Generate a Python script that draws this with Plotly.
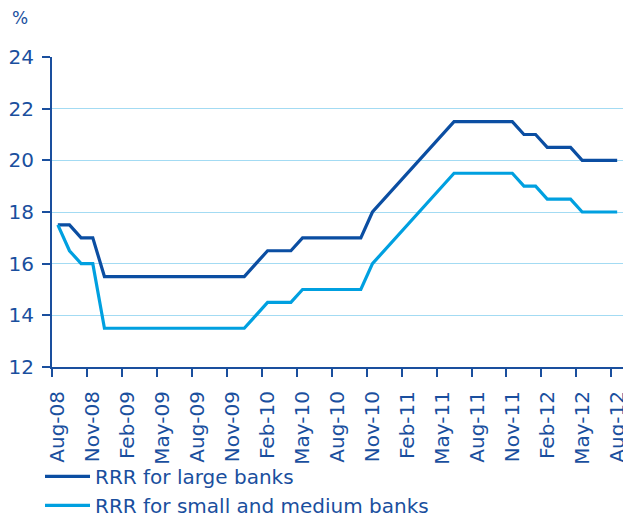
import plotly.graph_objects as go

months = ["Aug-08","Sep-08","Oct-08","Nov-08","Dec-08","Jan-09","Feb-09","Mar-09","Apr-09","May-09",
          "Jun-09","Jul-09","Aug-09","Sep-09","Oct-09","Nov-09","Dec-09","Jan-10","Feb-10","Mar-10",
          "Apr-10","May-10","Jun-10","Jul-10","Aug-10","Sep-10","Oct-10","Nov-10","Dec-10","Jan-11",
          "Feb-11","Mar-11","Apr-11","May-11","Jun-11","Jul-11","Aug-11","Sep-11","Oct-11","Nov-11",
          "Dec-11","Jan-12","Feb-12","Mar-12","Apr-12","May-12","Jun-12","Jul-12","Aug-12"]

rrr_large = [17.5,17.5,17.0,17.0,15.5,15.5,15.5,15.5,15.5,15.5,
             15.5,15.5,15.5,15.5,15.5,15.5,15.5,16.0,16.5,16.5,
             16.5,17.0,17.0,17.0,17.0,17.0,17.0,18.0,18.5,19.0,
             19.5,20.0,20.5,21.0,21.5,21.5,21.5,21.5,21.5,21.5,
             21.0,21.0,20.5,20.5,20.5,20.0,20.0,20.0,20.0]

rrr_small = [17.5,16.5,16.0,16.0,13.5,13.5,13.5,13.5,13.5,13.5,
             13.5,13.5,13.5,13.5,13.5,13.5,13.5,14.0,14.5,14.5,
             14.5,15.0,15.0,15.0,15.0,15.0,15.0,16.0,16.5,17.0,
             17.5,18.0,18.5,19.0,19.5,19.5,19.5,19.5,19.5,19.5,
             19.0,19.0,18.5,18.5,18.5,18.0,18.0,18.0,18.0]

series_names = ["RRR for large banks", "RRR for small and medium banks"]
y_ticks = [12, 14, 16, 18, 20, 22, 24]

DARK = "#0b4ea2"
LIGHT = "#00a0e0"
TEXT = "#1a4f9e"
GRID = "#a3dbf3"
FONT = "DejaVu Sans"

idx = list(range(len(months)))
label_idx = idx[::3]

fig = go.Figure()
fig.add_trace(go.Scatter(x=idx, y=rrr_large, mode="lines", name=series_names[0],
                         line=dict(color=DARK, width=3.2)))
fig.add_trace(go.Scatter(x=idx, y=rrr_small, mode="lines", name=series_names[1],
                         line=dict(color=LIGHT, width=3.2)))

fig.update_layout(
    width=623, height=515,
    margin=dict(l=52, r=0, t=57, b=148, autoexpand=False),
    paper_bgcolor="white", plot_bgcolor="white",
    font=dict(family=FONT, color=TEXT, size=20),
    showlegend=True,
    legend=dict(orientation="v", x=-0.021, y=-0.290, xanchor="left", yanchor="top",
                font=dict(size=20, color=TEXT), itemwidth=45, tracegroupgap=0,
                bgcolor="rgba(0,0,0,0)"),
    xaxis=dict(range=[-0.5, 48.5], tickmode="array", tickvals=label_idx,
               ticktext=[months[i] for i in label_idx], tickangle=-90,
               ticks="", showgrid=False, showline=True, linecolor=TEXT, linewidth=2,
               zeroline=False, ticklabelstandoff=14, ticklabeloverflow="allow",
               tickfont=dict(size=20, color=TEXT),
               minor=dict(tick0=-0.5, dtick=3, ticks="outside", ticklen=8,
                          tickwidth=2, tickcolor=TEXT, showgrid=False)),
    yaxis=dict(range=[12, 24], tickmode="array", tickvals=y_ticks,
               showgrid=True, gridcolor=GRID, gridwidth=1.2,
               showline=True, linecolor=TEXT, linewidth=2, zeroline=False,
               ticks="outside", ticklen=8, tickwidth=2, tickcolor=TEXT,
               ticklabelstandoff=4, tickfont=dict(size=20, color=TEXT)),
    annotations=[dict(text="%", xref="paper", yref="paper",
                      x=-32/571, y=1 + 39/310, xanchor="center", yanchor="middle",
                      showarrow=False, font=dict(size=17, color=TEXT))],
)

# remove the page's default body margin so the 623x515 figure fills the window
fig.write_html("out.html", config={"displayModeBar": False},
               post_script="document.body.style.margin='0';document.body.style.overflow='hidden';")
